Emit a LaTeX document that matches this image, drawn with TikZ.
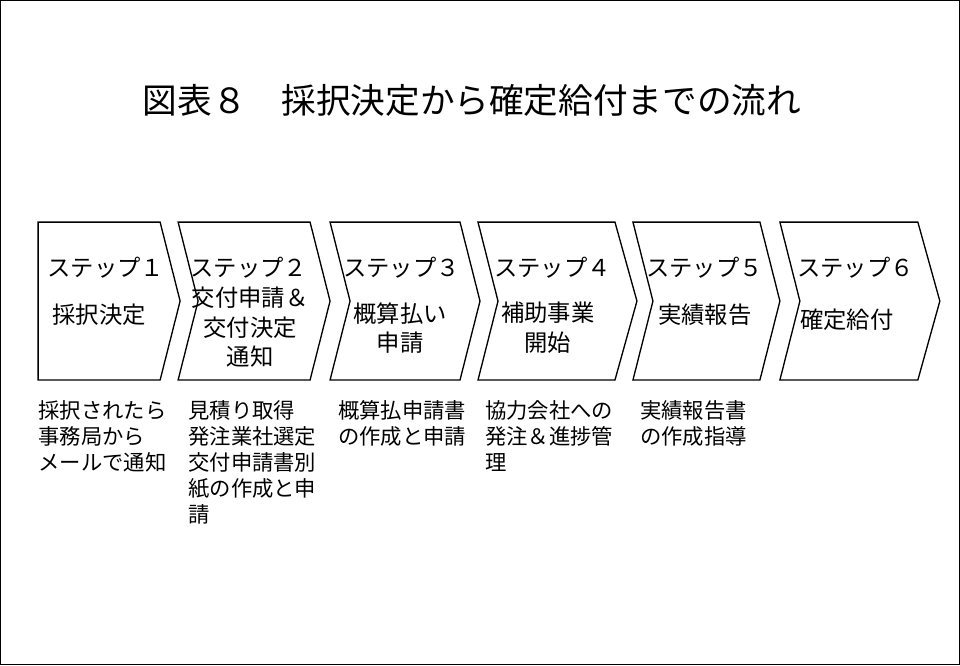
\documentclass[tikz,border=0pt]{standalone}
\usepackage{fontspec}
\setmainfont{Noto Sans CJK JP}
\begin{document}
\begin{tikzpicture}[x=0.75pt,y=-0.75pt,
  chev/.style={draw=black,line width=1pt,fill=white},
  lab/.style={anchor=west,inner sep=0,font=\fontsize{17.5}{20}\selectfont},
  body/.style={inner sep=0,align=center,font=\fontsize{17.5}{22}\selectfont},
  desc/.style={anchor=north west,inner sep=0,align=left,font=\fontsize{16}{19.5}\selectfont}]
\draw[line width=1pt] (0.5,0.5) rectangle (959.5,664.5);
\useasboundingbox (0,0) rectangle (960,665);
\node[inner sep=0,font=\fontsize{26}{30}\selectfont] (title) at (472,100) {図表８　採択決定から確定給付までの流れ};
% chevrons
\draw[chev] (38,222) -- (160,222) -- (180,301) -- (160,380) -- (38,380) -- cycle;
\draw[chev] (178,222) -- (310,222) -- (330,301) -- (310,380) -- (178,380) -- (198,301) -- cycle;
\draw[chev] (330,222) -- (460,222) -- (480,301) -- (460,380) -- (330,380) -- (350,301) -- cycle;
\draw[chev] (478,222) -- (615,222) -- (637,301) -- (615,380) -- (478,380) -- (498,301) -- cycle;
\draw[chev] (633,222) -- (760,222) -- (780,301) -- (760,380) -- (633,380) -- (653,301) -- cycle;
\draw[chev] (780,222) -- (918,222) -- (940,301) -- (918,380) -- (780,380) -- (800,301) -- cycle;
\node[lab] (l1) at (47,268) {ステップ１};
\node[lab] (l2) at (190,268) {ステップ２};
\node[lab] (l3) at (343,268) {ステップ３};
\node[lab] (l4) at (494,268) {ステップ４};
\node[lab] (l5) at (646,268) {ステップ５};
\node[lab] (l6) at (797,268) {ステップ６};
\node[body,anchor=west] (b1) at (52,315) {採択決定};
\node[body,anchor=north] (b2) at (250,287) {交付申請＆\\交付決定\\通知};
\node[body,anchor=north] (b3) at (400,302) {概算払い\\申請};
\node[body,anchor=north] (b4) at (548,302) {補助事業\\開始};
\node[body] (b5) at (705,315) {実績報告};
\node[body,anchor=west] (b6) at (800,320) {確定給付};
\node[desc] (d1) at (38,400) {採択されたら\\事務局から\\メールで通知};
\node[desc] (d2) at (188,400) {見積り取得\\発注業社選定\\交付申請書別\\紙の作成と申\\請};
\node[desc] (d3) at (338,400) {概算払申請書\\の作成と申請};
\node[desc] (d4) at (485,400) {協力会社への\\発注＆進捗管\\理};
\node[desc] (d5) at (640,400) {実績報告書\\の作成指導};
\end{tikzpicture}
\end{document}
